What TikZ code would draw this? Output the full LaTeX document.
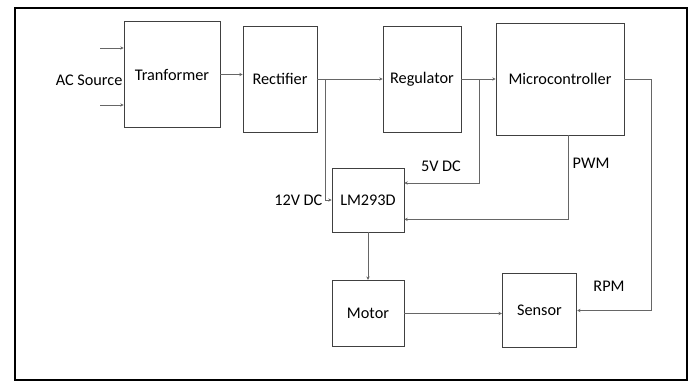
\documentclass[tikz,border=0pt]{standalone}
\usepackage{fontspec}
\setmainfont{Carlito}
\usetikzlibrary{arrows.meta,positioning}

\begin{document}
\begin{tikzpicture}[
  x=0.75pt, y=-0.75pt,
  block/.style={draw=black!75,line width=0.6pt,inner sep=0pt,font=\fontsize{12.2}{14}\selectfont},
  wire/.style={draw=black!60,line width=0.7pt},
  lbl/.style={inner sep=1pt,font=\fontsize{12.2}{14}\selectfont},
  >={Stealth[length=2.5pt,width=2.5pt]}
]
\useasboundingbox[fill=white] (0,0) rectangle (693,383);
\draw[line width=1.4pt] (15,8) rectangle (687,380);

% blocks
\node[block,minimum width=72pt,minimum height=79pt] (trans) at (172,74.5) {Tranformer};
\node[block,minimum width=55.5pt,minimum height=79.5pt] (rect) at (280,79) {Rectifier};
\node[block,minimum width=58.5pt,minimum height=79.5pt] (reg) at (422,79) {Regulator};
\node[block,minimum width=96pt,minimum height=84pt] (mcu) at (560,79) {Microcontroller};
\node[block,minimum width=54pt,minimum height=48pt] (lm) at (368,200) {LM293D};
\node[block,minimum width=54pt,minimum height=50pt] (motor) at (368,313.5) {Motor};
\node[block,minimum width=56pt,minimum height=55pt] (sensor) at (539.5,310.5) {Sensor};

% junctions
\coordinate (ac1) at (100,48);
\coordinate (ac2) at (100,105);
\coordinate (j12) at (325,79);
\coordinate (j5) at (479,79);
\coordinate (rpmx) at (651,79);

% connectors
\draw[wire,->] (ac1) -- (ac1 -| trans.west);
\draw[wire,->] (ac2) -- (ac2 -| trans.west);
\draw[wire,->] (trans.east) -- (trans.east -| rect.west);
\draw[wire,->] (rect.east) -- (reg.west);
\draw[wire,->] (j12) |- (lm.west);
\draw[wire,->] (reg.east) -- (reg.east -| mcu.west);
\draw[wire,->] (j5) |- (lm.25);
\draw[wire,->] ([xshift=6pt]mcu.south) |- (lm.-28);
\draw[wire] (mcu.east) -- (rpmx);
\draw[wire,->] (rpmx) |- (sensor.east);
\draw[wire,->] (lm.south) -- (motor.north);
\draw[wire,->] (motor.east) -- (motor.east -| sensor.west);

% labels
\node[lbl,anchor=east] (acsrc) at (124,80) {AC Source};
\node[lbl,anchor=east] (v12) at (324,200) {12V DC};
\node[lbl] (v5) at (441,166) {5V DC};
\node[lbl] (pwm) at (591,163) {PWM};
\node[lbl] (rpm) at (609,286) {RPM};
\end{tikzpicture}
\end{document}
